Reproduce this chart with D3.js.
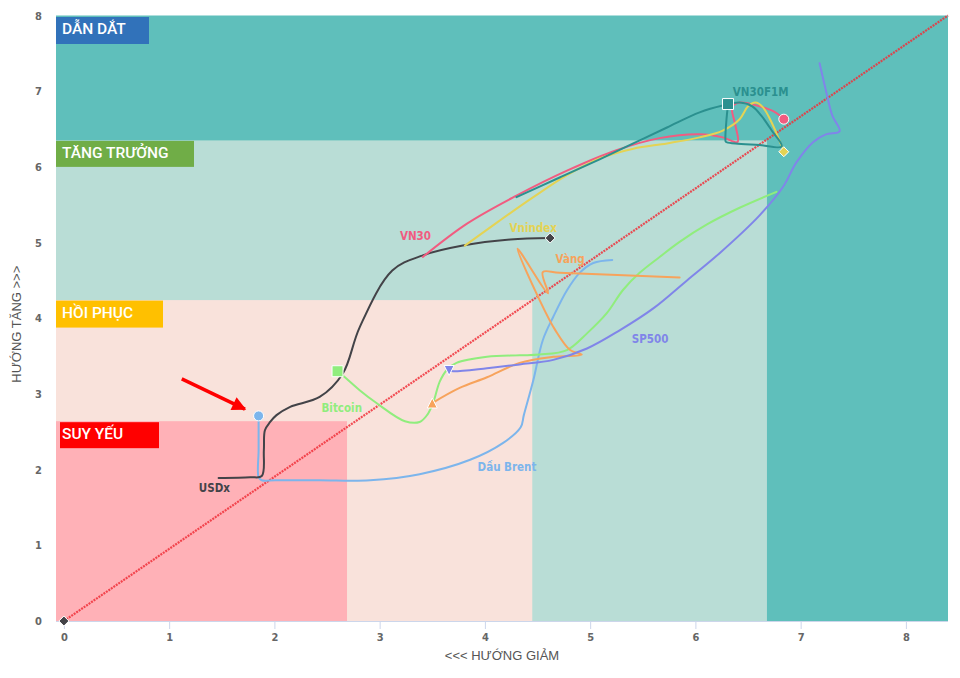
<!DOCTYPE html>
<html>
<head>
<meta charset="utf-8">
<script src="https://cdn.jsdelivr.net/npm/d3@7"></script>
<style>
  html, body { margin: 0; padding: 0; background: #fff; }
  svg { display: block; }
</style>
</head>
<body>
<svg id="chart" width="960" height="678"></svg>
<script>
// ---------------- DATA ----------------
const xTicks = [0, 1, 2, 3, 4, 5, 6, 7, 8];
const yTicks = [0, 1, 2, 3, 4, 5, 6, 7, 8];
const xTitle = "<<< HƯỚNG GIẢM";
const yTitle = "HƯỚNG TĂNG >>>";

// Zones: name, upper-right corner [x, y] of each nested rectangle
const zoneNames = ["DẪN DẮT", "TĂNG TRƯỞNG", "HỒI PHỤC", "SUY YẾU"];
const zoneX = [8.4, 6.68, 4.45, 2.69];
const zoneY = [8, 6.35, 4.24, 2.64];

const seriesNames = ["Dầu Brent", "USDx", "Bitcoin", "Vàng", "SP500", "VN30", "Vnindex", "VN30F1M"];

const dauBrent = [[5.21,4.77],[5.03,4.73],[4.90,4.60],[4.78,4.37],[4.65,4.02],[4.55,3.71],[4.46,3.18],[4.37,2.72],[4.34,2.56],[4.17,2.35],[3.86,2.13],[3.38,1.94],[2.91,1.86],[2.43,1.86],[2.01,1.86],[1.88,1.86],[1.85,1.90],[1.85,2.26],[1.85,2.71]];
const usdx = [[1.47,1.89],[1.77,1.90],[1.88,1.915],[1.90,2.26],[1.91,2.52],[1.96,2.63],[2.02,2.72],[2.15,2.83],[2.43,2.96],[2.65,3.27],[2.81,3.88],[3.12,4.63],[3.41,4.83],[3.79,4.96],[4.24,5.04],[4.62,5.06]];
const bitcoin = [[6.77,5.67],[6.42,5.46],[6.11,5.24],[5.85,5.01],[5.66,4.81],[5.47,4.60],[5.31,4.37],[5.16,4.07],[4.97,3.80],[4.78,3.58],[4.52,3.52],[4.33,3.51],[4.02,3.49],[3.73,3.41],[3.64,3.32],[3.57,3.16],[3.51,2.89],[3.45,2.72],[3.38,2.63],[3.24,2.64],[2.97,2.88],[2.81,3.05],[2.67,3.22],[2.60,3.30]];
const vang = [[5.85,4.54],[4.71,4.60],[4.55,4.61],[4.60,4.33],[4.31,4.92],[4.52,4.24],[4.67,3.84],[4.81,3.58],[4.92,3.52],[4.65,3.49],[4.33,3.41],[4.02,3.22],[3.76,3.08],[3.50,2.88]];
const sp500 = [[7.18,7.37],[7.24,7.01],[7.30,6.68],[7.37,6.47],[7.24,6.43],[7.12,6.33],[6.96,6.06],[6.83,5.73],[6.61,5.36],[6.23,4.86],[5.92,4.50],[5.60,4.13],[5.28,3.84],[4.97,3.60],[4.65,3.45],[4.33,3.39],[4.02,3.34],[3.70,3.30],[3.66,3.31]];
const vn30 = [[3.41,4.81],[3.83,5.25],[4.30,5.62],[4.78,5.95],[5.25,6.22],[5.66,6.38],[6.04,6.43],[6.26,6.39],[6.40,6.33],[6.38,6.55],[6.35,6.79],[6.42,6.85],[6.61,6.80],[6.76,6.72],[6.84,6.63]];
const vnindex = [[3.81,4.96],[4.14,5.29],[4.46,5.60],[4.78,5.89],[5.09,6.11],[5.41,6.24],[5.73,6.31],[6.04,6.39],[6.26,6.48],[6.42,6.63],[6.50,6.80],[6.57,6.85],[6.64,6.79],[6.73,6.57],[6.84,6.20]];
const vn30f1m = [[4.30,5.60],[4.71,5.86],[5.09,6.10],[5.41,6.31],[5.73,6.52],[6.04,6.72],[6.26,6.81],[6.42,6.85],[6.54,6.80],[6.63,6.67],[6.73,6.47],[6.82,6.27],[6.61,6.29],[6.38,6.31],[6.29,6.33],[6.285,6.38],[6.295,6.62],[6.31,6.83]];
const seriesData = [dauBrent, usdx, bitcoin, vang, sp500, vn30, vnindex, vn30f1m];

const diagonal = [[0,0],[8.4,8]];
const originPoint = [0, 0];
const arrowFrom = [1.12, 3.20];
const arrowTo = [1.72, 2.80];

// ---------------- STYLE / LAYOUT ----------------
const seriesColors = ["#7cb5ec", "#434348", "#90ed7d", "#f7a35c", "#8085e9", "#f15c80", "#e4d354", "#2b908f"];
const seriesSymbols = ["circle", "diamond", "square", "triangle", "triangle-down", "circle", "diamond", "square"];
const labelPos = [[4.21,2.03],[1.43,1.76],[2.64,2.81],[4.81,4.78],[5.57,3.73],[3.34,5.09],[4.46,5.19],[6.62,6.99]];
const zoneFill = ["#5fbfbb", "#b9ddd6", "#f9e2db", "#ffb1b7"];
const zoneLabelFill = ["#3172ba", "#70ad47", "#ffc000", "#ff0000"];
const zoneBox = [ // x offset, y offset from band top, width, height (px)
  [0, 1.5, 93, 27], [0, 0.5, 138, 26], [0, 0.5, 107, 27], [4, 1, 99, 26]
];

const margin = {left: 56, right: 12, top: 15.5, bottom: 57};
const W = 960, H = 678;

const x = d3.scaleLinear().domain([-0.075, 8.4]).range([margin.left, W - margin.right]);
const y = d3.scaleLinear().domain([0, 8]).range([H - margin.bottom, margin.top]);

const svg = d3.select("#chart");

// zones
const gz = svg.append("g");
zoneNames.forEach((n, i) => {
  gz.append("rect")
    .attr("x", x.range()[0]).attr("y", y(zoneY[i]))
    .attr("width", x(zoneX[i]) - x.range()[0])
    .attr("height", y(0) - y(zoneY[i]))
    .attr("fill", zoneFill[i]);
});
zoneNames.forEach((n, i) => {
  const b = zoneBox[i];
  const top = y(zoneY[i]) + b[1];
  gz.append("rect")
    .attr("x", x.range()[0] + b[0]).attr("y", top)
    .attr("width", b[2]).attr("height", b[3])
    .attr("fill", zoneLabelFill[i]);
  gz.append("text")
    .attr("x", x.range()[0] + 6).attr("y", top + 17)
    .attr("fill", "#fff")
    .attr("font-family", "Roboto, 'Noto Sans', sans-serif")
    .attr("font-weight", 500)
    .attr("font-size", 15.5)
    .text(n);
});

// x axis
const xAxis = d3.axisBottom(x).tickValues(xTicks).tickSize(8).tickPadding(4).tickFormat(d3.format("d"));
const gx = svg.append("g").attr("transform", `translate(0,${y(0)})`).call(xAxis);
gx.select(".domain").attr("stroke", "#ccd6eb").attr("d", `M${x.range()[0]},0.5H${x.range()[1]}`);
gx.selectAll(".tick line").attr("stroke", "#ccd6eb");
gx.selectAll(".tick text").attr("fill", "#666").attr("font-size", 11).attr("font-weight", "bold")
  .attr("font-family", "'DejaVu Sans Condensed', 'DejaVu Sans', sans-serif").attr("font-stretch", "condensed");

// y axis
const yAxis = d3.axisLeft(y).tickValues(yTicks).tickSize(0).tickPadding(14).tickFormat(d3.format("d"));
const gy = svg.append("g").attr("transform", `translate(${margin.left},0)`).call(yAxis);
gy.select(".domain").remove();
gy.selectAll(".tick text").attr("fill", "#666").attr("font-size", 11).attr("font-weight", "bold")
  .attr("font-family", "'DejaVu Sans Condensed', 'DejaVu Sans', sans-serif").attr("font-stretch", "condensed");

// axis titles
svg.append("text")
  .attr("x", (x.range()[0] + x.range()[1]) / 2).attr("y", 660)
  .attr("text-anchor", "middle").attr("fill", "#555")
  .attr("font-family", "'Liberation Sans', Arial, sans-serif").attr("font-size", 13)
  .text(xTitle);
svg.append("text")
  .attr("transform", `translate(21,${(y(0) + y(8)) / 2 + 6}) rotate(-90)`)
  .attr("text-anchor", "middle").attr("fill", "#555")
  .attr("font-family", "'Liberation Sans', Arial, sans-serif").attr("font-size", 13)
  .text(yTitle);

// diagonal
svg.append("path")
  .attr("d", d3.line().x(d => x(d[0])).y(d => y(d[1]))(diagonal))
  .attr("fill", "none").attr("stroke", "#f0303a").attr("stroke-width", 2.2)
  .attr("stroke-dasharray", "2,1").attr("opacity", 0.85);

// symbols
function symbolPath(type, r) {
  switch (type) {
    case "circle": return `M${-r},0A${r},${r} 0 1,0 ${r},0A${r},${r} 0 1,0 ${-r},0Z`;
    case "square": return `M${-r},${-r}H${r}V${r}H${-r}Z`;
    case "diamond": return `M0,${-r}L${r},0L0,${r}L${-r},0Z`;
    case "triangle": return `M0,${-r}L${r},${r}L${-r},${r}Z`;
    case "triangle-down": return `M${-r},${-r}L${r},${-r}L0,${r}Z`;
  }
}

const line = d3.line().x(d => x(d[0])).y(d => y(d[1])).curve(d3.curveCatmullRom.alpha(0.5));
const gs = svg.append("g");
seriesData.forEach((data, i) => {
  gs.append("path").attr("d", line(data))
    .attr("fill", "none").attr("stroke", seriesColors[i]).attr("stroke-width", 2)
    .attr("stroke-linejoin", "round").attr("stroke-linecap", "round");
});
// labels
seriesNames.forEach((n, i) => {
  gs.append("text")
    .attr("x", x(labelPos[i][0])).attr("y", y(labelPos[i][1]))
    .attr("text-anchor", "middle").attr("dominant-baseline", "central")
    .attr("fill", seriesColors[i])
    .attr("font-family", "'DejaVu Sans Condensed', 'DejaVu Sans', sans-serif")
    .attr("font-stretch", "condensed")
    .attr("font-weight", "bold").attr("font-size", 11.5)
    .text(n);
});
// end markers
seriesData.forEach((data, i) => {
  const p = data[data.length - 1];
  gs.append("path")
    .attr("transform", `translate(${x(p[0])},${y(p[1])})`)
    .attr("d", symbolPath(seriesSymbols[i], seriesSymbols[i] === "square" ? 5.5 : 5))
    .attr("fill", seriesColors[i]).attr("stroke", "#fff").attr("stroke-width", 1);
});
// origin point
svg.append("path")
  .attr("transform", `translate(${x(originPoint[0])},${y(originPoint[1])})`)
  .attr("d", symbolPath("diamond", 5))
  .attr("fill", "#434348").attr("stroke", "#fff").attr("stroke-width", 1);

// arrow annotation
const defs = svg.append("defs");
defs.append("marker").attr("id", "arrowhead")
  .attr("viewBox", "0 0 10 10").attr("refX", 9).attr("refY", 5)
  .attr("markerWidth", 5.5).attr("markerHeight", 4).attr("orient", "auto")
  .attr("markerUnits", "strokeWidth")
  .append("path").attr("d", "M0,0L10,5L0,10Z").attr("fill", "#ff0000");
svg.append("line")
  .attr("x1", x(arrowFrom[0])).attr("y1", y(arrowFrom[1]))
  .attr("x2", x(arrowTo[0])).attr("y2", y(arrowTo[1]))
  .attr("stroke", "#ff0000").attr("stroke-width", 3.5)
  .attr("marker-end", "url(#arrowhead)");
</script>
</body>
</html>
